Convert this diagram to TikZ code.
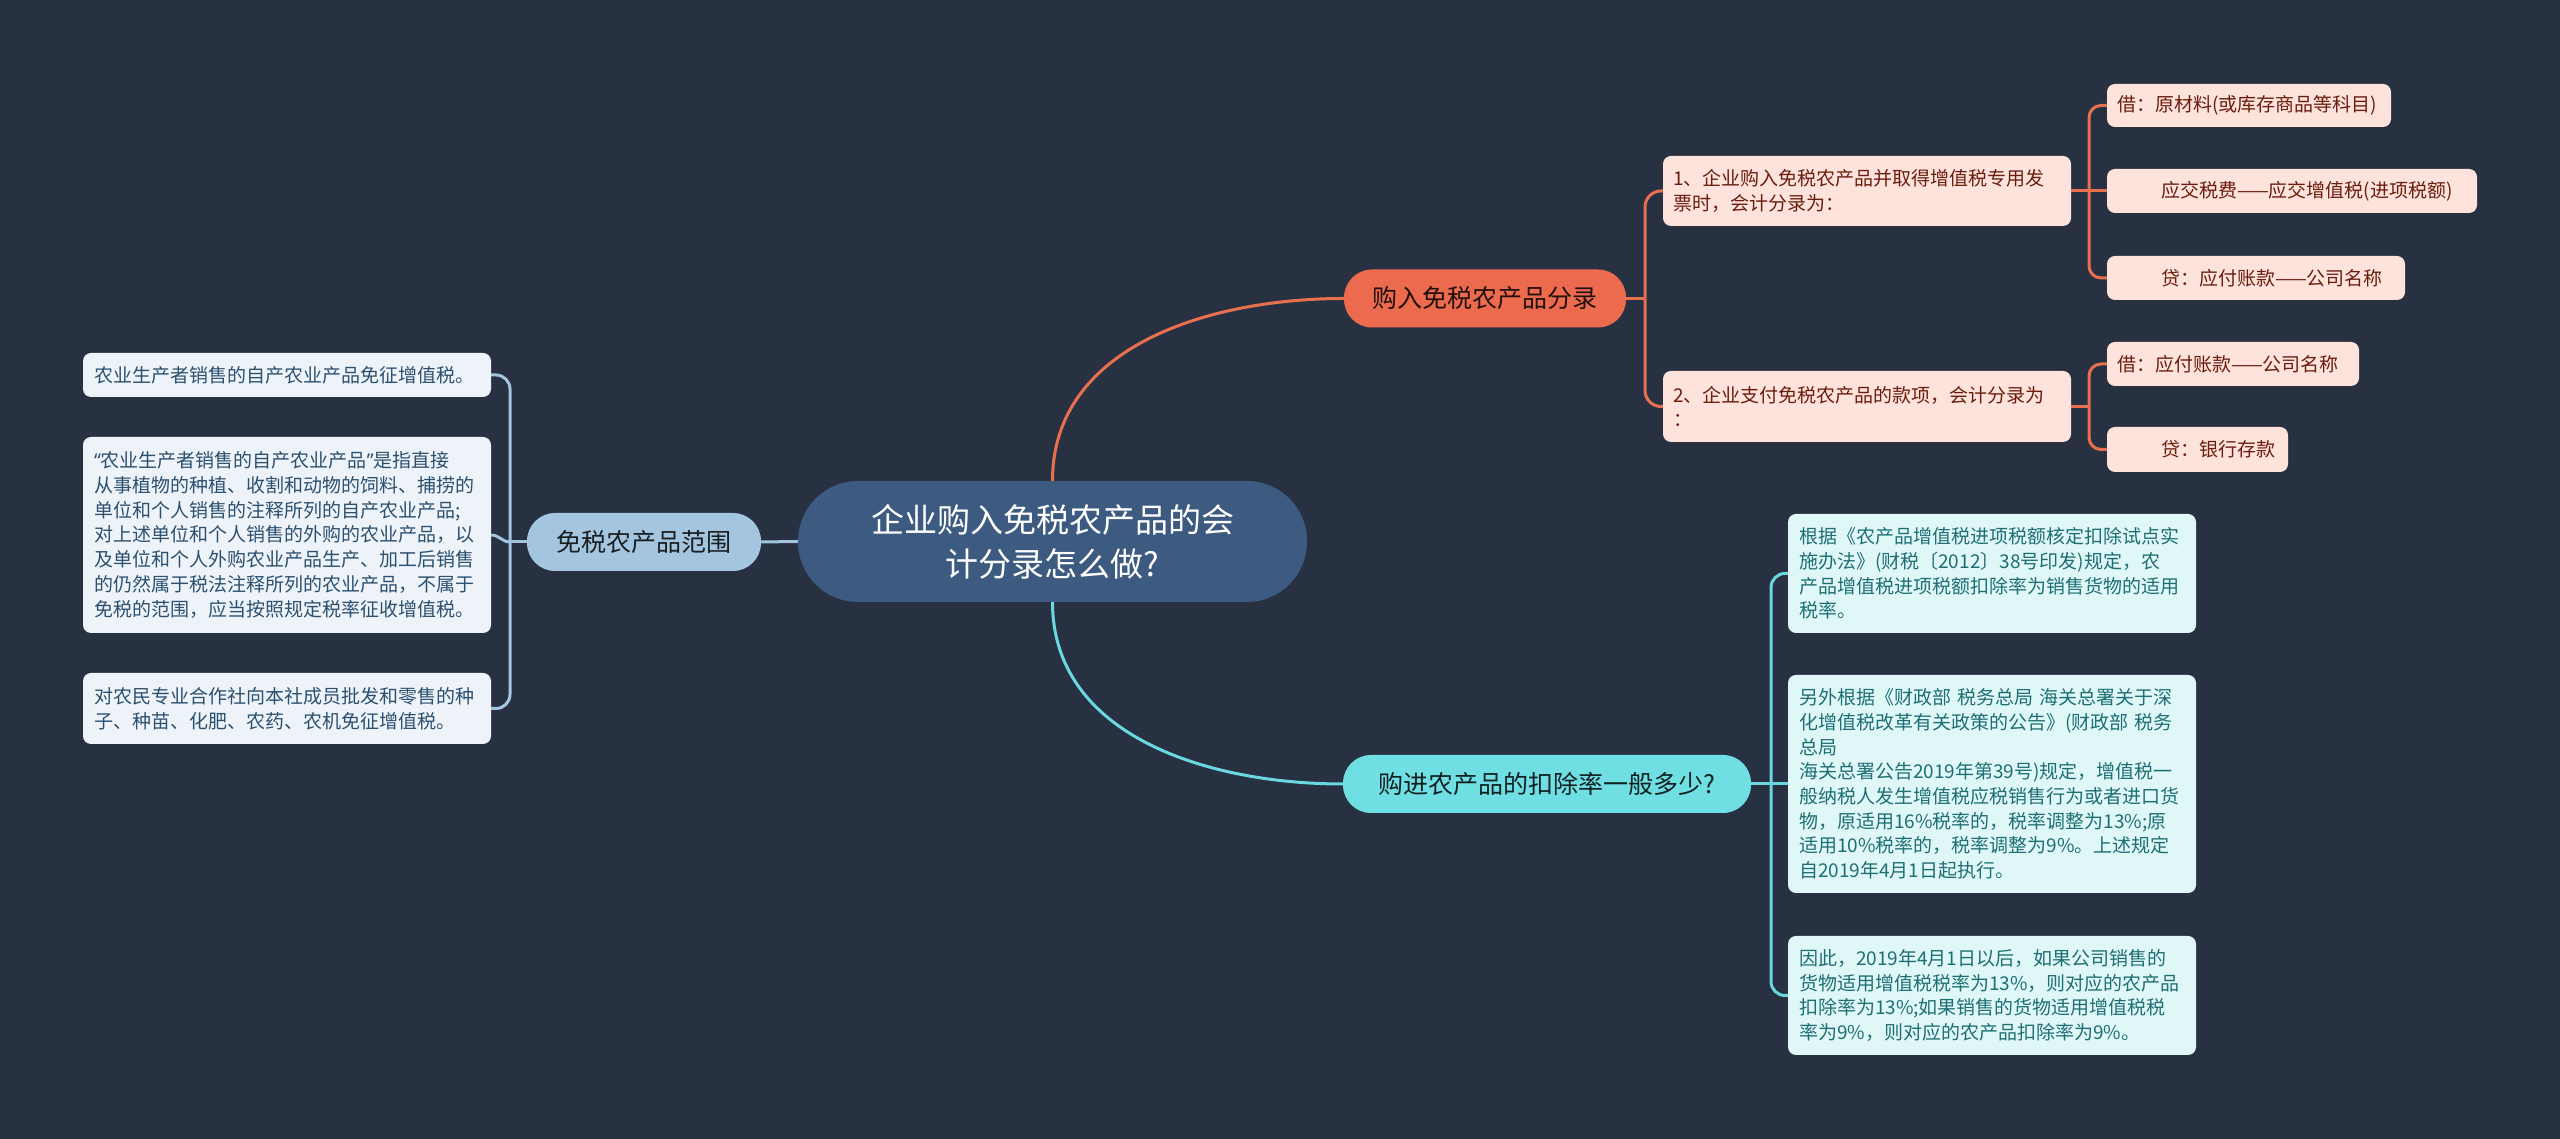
\documentclass[tikz,border=0pt]{standalone}
\usepackage{fontspec}
\setmainfont{Noto Sans CJK SC}
\newfontfamily\latinq{Noto Sans}
\definecolor{bgc}{HTML}{283142}
\definecolor{centerc}{HTML}{3D5A80}
\definecolor{obranch}{HTML}{EC6B4E}
\definecolor{cbranch}{HTML}{6FDFE4}
\definecolor{lbranch}{HTML}{A4C5DF}
\definecolor{oleafc}{HTML}{FDE3DC}
\definecolor{cleafc}{HTML}{E0F7F8}
\definecolor{lleafc}{HTML}{EDF3F8}
\definecolor{otext}{HTML}{6B1D0D}
\definecolor{ctext}{HTML}{1D6F74}
\definecolor{ltext}{HTML}{2C5070}
\definecolor{olinec}{HTML}{E8704F}
\definecolor{clinec}{HTML}{6AD8E0}
\definecolor{llinec}{HTML}{A4C5DF}
\begin{document}
\begin{tikzpicture}[x=1pt,y=1pt,
  centerbox/.style={fill=centerc, text=white, rounded corners=60pt, minimum width=509pt, minimum height=121pt, inner sep=0pt, align=center, font={\fontsize{33pt}{44pt}\selectfont}},
  branchbox/.style={rounded corners=28pt, inner sep=0pt, minimum height=58pt, font={\fontsize{25pt}{30pt}\selectfont}},
  leafbox/.style={rounded corners=8pt, inner xsep=10pt, inner ysep=0pt, align=left, font={\fontsize{19pt}{24.7pt}\selectfont}},
  oleaf/.style={leafbox, fill=oleafc, text=otext},
  cleaf/.style={leafbox, inner xsep=11pt, fill=cleafc, text=ctext},
  lleaf/.style={leafbox, inner xsep=11pt, fill=lleafc, text=ltext},
  oline/.style={draw=olinec, line width=3pt},
  cline/.style={draw=clinec, line width=3pt},
  lline/.style={draw=llinec, line width=3pt},
  ]
\useasboundingbox (0,0) rectangle (2560,1139);
\fill[bgc] (0,0) rectangle (2560,1139);

% nodes
\node[centerbox] (c) at (1052.5,597.5) {企业购入免税农产品的会\\计分录怎么做?};
\node[branchbox, fill=obranch, text=black!85!obranch, minimum width=282pt] (b1) at (1485,840.5) {购入免税农产品分录};
\node[branchbox, fill=cbranch, text=black!85!cbranch, minimum width=408pt] (b2) at (1547,355) {购进农产品的扣除率一般多少?};
\node[branchbox, fill=lbranch, text=black!85!lbranch, minimum width=234pt] (b3) at (644,597) {免税农产品范围};

% orange level 2
\node[oleaf, text width=388pt, minimum height=70pt] (o1) at (1867,948) {1、企业购入免税农产品并取得增值税专用发\\票时，会计分录为：};
\node[oleaf, text width=388pt, minimum height=71pt] (o2) at (1867,732.5) {2、企业支付免税农产品的款项，会计分录为\\：};
\node[oleaf, text width=264pt, minimum height=43pt] (o11) at (2249,1033.5) {借：原材料(或库存商品等科目)};
\node[oleaf, text width=350pt, minimum height=44pt] (o12) at (2292,948) {\hspace*{44pt}应交税费——应交增值税(进项税额)};
\node[oleaf, text width=278pt, minimum height=44pt] (o13) at (2256,861) {\hspace*{44pt}贷：应付账款——公司名称};
\node[oleaf, text width=232pt, minimum height=44pt] (o21) at (2233,775) {借：应付账款——公司名称};
\node[oleaf, text width=161pt, minimum height=45pt] (o22) at (2197.5,689.5) {\hspace*{44pt}贷：银行存款};

% cyan leaves
\node[cleaf, text width=386pt, minimum height=119pt] (c1) at (1992,565.5) {根据《农产品增值税进项税额核定扣除试点实\\施办法》(财税〔2012〕38号印发)规定，农\\产品增值税进项税额扣除率为销售货物的适用\\税率。};
\node[cleaf, text width=386pt, minimum height=218pt] (c2) at (1992,355) {另外根据《财政部~税务总局~海关总署关于深\\化增值税改革有关政策的公告》(财政部~税务\\总局\\海关总署公告2019年第39号)规定，增值税一\\般纳税人发生增值税应税销售行为或者进口货\\物，原适用16\%税率的，税率调整为13\%;原\\适用10\%税率的，税率调整为9\%。上述规定\\自2019年4月1日起执行。};
\node[cleaf, text width=386pt, minimum height=119pt] (c3) at (1992,143.5) {因此，2019年4月1日以后，如果公司销售的\\货物适用增值税税率为13\%，则对应的农产品\\扣除率为13\%;如果销售的货物适用增值税税\\率为9\%，则对应的农产品扣除率为9\%。};

% left leaves
\node[lleaf, text width=386pt, minimum height=44pt] (l1) at (287,764) {农业生产者销售的自产农业产品免征增值税。};
\node[lleaf, text width=386pt, minimum height=196pt] (l2) at (287,604) {{\latinq “}农业生产者销售的自产农业产品{\latinq ”}是指直接\\从事植物的种植、收割和动物的饲料、捕捞的\\单位和个人销售的注释所列的自产农业产品;\\对上述单位和个人销售的外购的农业产品，以\\及单位和个人外购农业产品生产、加工后销售\\的仍然属于税法注释所列的农业产品，不属于\\免税的范围，应当按照规定税率征收增值税。};
\node[lleaf, text width=386pt, minimum height=71pt] (l3) at (287,430.5) {对农民专业合作社向本社成员批发和零售的种\\子、种苗、化肥、农药、农机免征增值税。};

% trunk coordinates
\coordinate (t1) at (1645,840.5);
\coordinate (t2) at (1771,355);
\coordinate (t3) at (510,597);
\coordinate (t11) at (2089,948);
\coordinate (t21) at (2089,732.5);

% main connectors
\draw[oline] (c.north) to[out=90,in=180] (b1.west);
\draw[cline] (c.south) to[out=-90,in=180] (b2.west);
\draw[lline] (c.west) -- (b3.east);

% orange
\draw[oline] (b1.east) -- (t1);
\draw[oline, rounded corners=16pt] (t1) |- (o1.west);
\draw[oline, rounded corners=16pt] (t1) |- (o2.west);
\draw[oline] (o1.east) -- (t11);
\draw[oline, rounded corners=12pt] (t11) |- (o11.west);
\draw[oline] (t11) -- (o12.west);
\draw[oline, rounded corners=12pt] (t11) |- (o13.west);
\draw[oline] (o2.east) -- (t21);
\draw[oline, rounded corners=12pt] (t21) |- (o21.west);
\draw[oline, rounded corners=12pt] (t21) |- (o22.west);

% cyan
\draw[cline] (b2.east) -- (t2);
\draw[cline, rounded corners=14pt] (t2) |- (c1.west);
\draw[cline] (t2) -- (c2.west);
\draw[cline, rounded corners=14pt] (t2) |- (c3.west);

% left
\draw[lline] (b3.west) -- (t3);
\draw[lline, rounded corners=14pt] (t3) |- (l1.east);
\draw[lline] (t3) to[out=180,in=0] (l2.east);
\draw[lline, rounded corners=14pt] (t3) |- (l3.east);
\end{tikzpicture}
\end{document}
